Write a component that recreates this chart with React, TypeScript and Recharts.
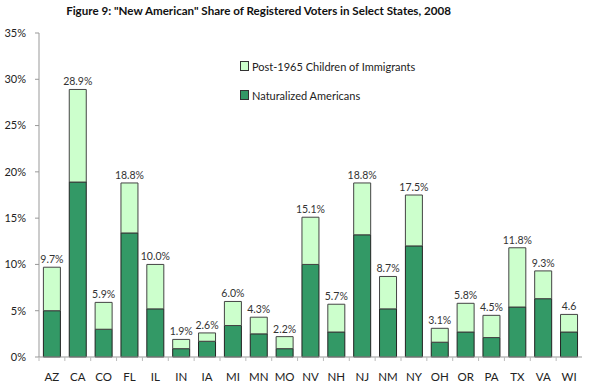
import React from 'react';
import { BarChart, Bar, XAxis, YAxis, LabelList } from 'recharts';

const states = ['AZ', 'CA', 'CO', 'FL', 'IL', 'IN', 'IA', 'MI', 'MN', 'MO', 'NV', 'NH', 'NJ', 'NM', 'NY', 'OH', 'OR', 'PA', 'TX', 'VA', 'WI'];
const totals = [9.7, 28.9, 5.9, 18.8, 10.0, 1.9, 2.6, 6.0, 4.3, 2.2, 15.1, 5.7, 18.8, 8.7, 17.5, 3.1, 5.8, 4.5, 11.8, 9.3, 4.6];
const naturalized = [5.0, 18.9, 3.0, 13.4, 5.2, 0.9, 1.7, 3.4, 2.5, 0.9, 10.0, 2.7, 13.2, 5.2, 12.0, 1.6, 2.7, 2.1, 5.4, 6.3, 2.7];
const totalLabels = ['9.7%', '28.9%', '5.9%', '18.8%', '10.0%', '1.9%', '2.6%', '6.0%', '4.3%', '2.2%', '15.1%', '5.7%', '18.8%', '8.7%', '17.5%', '3.1%', '5.8%', '4.5%', '11.8%', '9.3%', '4.6'];
const yTicks = [0, 5, 10, 15, 20, 25, 30, 35];
const legendItems = [
  { name: 'Post-1965 Children of Immigrants', key: 'children' },
  { name: 'Naturalized Americans', key: 'naturalized' },
];

const DARK = '#339966';
const LIGHT = '#CCFFCC';
const FONT = 'Lato, "Open Sans", sans-serif';

const data = states.map((s, i) => ({
  state: s,
  naturalized: naturalized[i],
  children: +(totals[i] - naturalized[i]).toFixed(1),
  label: totalLabels[i],
}));

const BAND = (582 - 39) / states.length;

const XTick = (props: any) => {
  const { x, y, payload } = props;
  return (
    <g>
      <line x1={x - BAND / 2} x2={x - BAND / 2} y1={357} y2={361} stroke="#bbb" />
      <text x={x} y={y + 7} textAnchor="middle" dominantBaseline="hanging" fontSize={11.5} fill="#222" fontFamily={FONT}>
        {payload.value}
      </text>
    </g>
  );
};

export default function App() {
  return (
    <div style={{ position: 'fixed', left: 0, top: 0, width: 590, height: 384, background: '#fff' }}>
      <div style={{ position: 'absolute', left: 0, width: 517, top: 4, textAlign: 'center', fontFamily: FONT, fontWeight: 700, fontSize: 11.6, color: '#111' }}>
        Figure 9: "New American" Share of Registered Voters in Select States, 2008
      </div>
      <div style={{ position: 'absolute', left: 240, top: 58, fontFamily: FONT, fontSize: 11, color: '#222', zIndex: 2 }}>
        {legendItems.map((it, i) => (
          <div key={it.key} style={{ display: 'flex', alignItems: 'center', height: 16, marginBottom: i === 0 ? 13 : 0 }}>
            <span style={{ width: 7, height: 8, background: it.key === 'children' ? LIGHT : DARK, border: '1px solid #333', marginRight: 3, display: 'inline-block' }} />
            {it.name}
          </div>
        ))}
      </div>
      <BarChart width={590} height={384} data={data} barCategoryGap="17%" margin={{ top: 33, right: 8, bottom: 0, left: 0 }}>
        <XAxis dataKey="state" height={27} stroke="#999" tickLine={false} tick={<XTick />} interval={0} />
        <YAxis
          width={39}
          domain={[0, 35]}
          ticks={yTicks}
          stroke="#999"
          tickSize={4}
          tickMargin={9}
          tickFormatter={(v: number) => `${v}%`}
          tick={{ fill: '#222', fontSize: 11, fontFamily: FONT }}
        />
        <Bar dataKey="naturalized" stackId="a" fill={DARK} stroke="#222" strokeWidth={1} isAnimationActive={false} />
        <Bar dataKey="children" stackId="a" fill={LIGHT} stroke="#444" strokeWidth={1} isAnimationActive={false}>
          <LabelList dataKey="label" position="top" offset={4} fontSize={10.5} fill="#333" fontFamily={FONT} />
        </Bar>
      </BarChart>
    </div>
  );
}
